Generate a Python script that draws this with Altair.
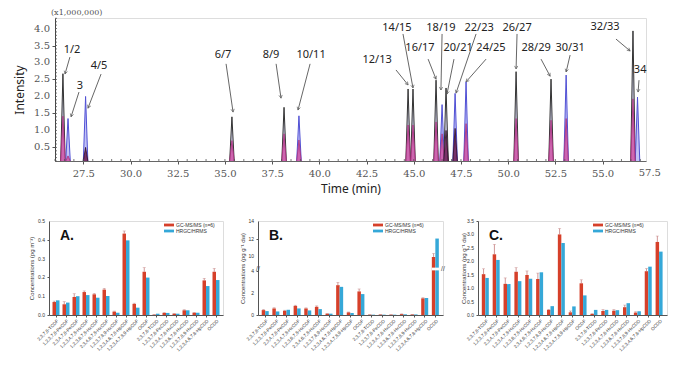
import math
import altair as alt
import pandas as pd

# ---------------- chromatogram data ----------------
peak_names = ["1/2", "3", "4/5", "6/7", "8/9", "10/11", "12/13", "14/15", "16/17",
              "18/19", "20/21", "22/23", "24/25", "26/27", "28/29", "30/31", "32/33", "34"]
peak_time = [26.42, 26.69, 27.62, 35.37, 38.13, 38.92, 44.70, 44.96, 46.18,
             46.50, 46.71, 47.19, 47.77, 50.42, 52.27, 53.07, 56.61, 56.85]
peak_main = [2.67, 1.35, 2.00, 1.40, 1.68, 1.43, 2.22, 2.22, 2.48,
             1.76, 2.25, 2.09, 2.43, 2.73, 2.51, 2.63, 3.93, 1.98]
peak_main_trace = ["gray", "blue", "blue", "gray", "gray", "blue", "gray", "gray", "gray",
                   "blue", "gray", "blue", "blue", "gray", "gray", "blue", "gray", "blue"]
peak_sub = [1.42, 0.25, 0.50, 0.70, 0.90, 0.72, 1.16, 1.16, 1.25,
            0.90, 1.00, 1.06, 1.20, 1.35, 1.30, 1.35, 1.93, 0.0]
peak_sub_trace = ["magenta", "magenta", "dark", "magenta", "magenta", "magenta", "magenta", "magenta", "magenta",
                  "magenta", "dark", "dark", "magenta", "magenta", "magenta", "magenta", "magenta", "magenta"]

ann_tx = [26.90, 27.32, 28.33, 34.90, 37.44, 39.56, 43.06, 44.11, 45.33,
          46.44, 47.35, 48.46, 49.09, 50.47, 51.48, 53.28, 55.13, 56.99]
ann_ty = [3.37, 2.31, 2.90, 3.22, 3.22, 3.22, 3.07, 4.02, 3.43,
          4.02, 3.43, 4.02, 3.43, 4.02, 3.43, 3.43, 4.04, 2.78]
arr_t1 = [26.79, 27.27, 28.44, 35.06, 37.71, 39.51, 44.06, 44.43, 45.76,
          46.50, 47.13, 48.30, 48.83, 50.47, 51.74, 53.28, 55.71, 56.93]
arr_v1 = [3.16, 2.13, 2.66, 2.96, 2.96, 2.96, 2.78, 3.84, 3.10,
          3.84, 3.10, 3.84, 3.10, 3.84, 3.10, 3.22, 3.69, 2.48]
arr_t2 = [26.53, 26.85, 27.75, 35.43, 37.97, 38.87, 44.70, 44.96, 46.18,
          46.44, 46.76, 47.24, 47.77, 50.42, 52.22, 53.07, 56.46, 56.88]
arr_v2 = [2.66, 1.40, 1.66, 1.54, 1.95, 1.60, 2.34, 2.25, 2.51,
          2.19, 2.07, 2.10, 2.43, 2.81, 2.60, 2.72, 3.34, 2.13]

x_major = [27.5, 30.0, 32.5, 35.0, 37.5, 40.0, 42.5, 45.0, 47.5, 50.0, 52.5, 55.0]
x_extra_label = [57.5]
y_major = [0.5, 1.0, 1.5, 2.0, 2.5, 3.0, 3.5, 4.0]

T_MIN, T_MAX = 26.0, 57.3
V_MIN, V_MAX = 0.1, 4.31
TOP_W, TOP_H = 591, 143
HW = 0.12  # half width of a peak (min)

rows = []
for i, t in enumerate(peak_time):
    for layer, tr, h in (("main", peak_main_trace[i], peak_main[i]),
                         ("sub", peak_sub_trace[i], peak_sub[i])):
        if h <= 0:
            continue
        for dt, v in ((-HW, V_MIN), (0.0, h), (HW, V_MIN)):
            rows.append({"pk": f"{peak_names[i]}-{layer}", "layer": layer,
                         "trace": tr, "t": t + dt, "v": v})
peaks_df = pd.DataFrame(rows)

pxm = TOP_W / (T_MAX - T_MIN)
pxv = TOP_H / (V_MAX - V_MIN)
ann_rows = []
for i, n in enumerate(peak_names):
    dx = (arr_t2[i] - arr_t1[i]) * pxm
    dy = -(arr_v2[i] - arr_v1[i]) * pxv
    ang = math.degrees(math.atan2(dx, -dy)) % 360
    ann_rows.append({"name": n, "tx": ann_tx[i], "ty": ann_ty[i],
                     "t1": arr_t1[i], "v1": arr_v1[i], "t2": arr_t2[i], "v2": arr_v2[i],
                     "ang": ang})
ann_df = pd.DataFrame(ann_rows)

trace_dom = ["gray", "blue", "magenta", "dark"]
fill_rng = ["#b9b9de", "#a8a8f2", "#cc52a4", "#6a1850"]
stroke_rng = ["#333333", "#5050d4", "#a82c7c", "#2e0a24"]

xs = alt.Scale(domain=[T_MIN, T_MAX], nice=False, zero=False)
ys = alt.Scale(domain=[V_MIN, V_MAX], nice=False, zero=False)

x_minor = pd.DataFrame({"t": [26.0 + 0.5 * k for k in range(63)]})
y_minor = pd.DataFrame({"v": [round(0.1 * k, 1) for k in range(1, 44)]})

xaxis_top = alt.Axis(values=x_major, format=".1f", title="Time (min)",
                     labelFont="DejaVu Serif", labelFontSize=10, labelColor="#555",
                     labelPadding=4, tickSize=3, tickColor="#555", domainColor="#666",
                     grid=False, titleFont="Noto Sans", titleFontSize=12,
                     titleFontWeight="normal", titleColor="#222", titlePadding=5,
                     labelOverlap=False)
yaxis_top = alt.Axis(values=y_major, labels=False, title="Intensity",
                     tickSize=3, tickColor="#555", domainColor="#444",
                     grid=False, titleFont="Noto Sans", titleFontSize=12,
                     titleFontWeight="normal", titleColor="#222", titlePadding=25)

pbase = alt.Chart(peaks_df)
fill_scale = alt.Scale(domain=trace_dom, range=fill_rng)
stroke_scale = alt.Scale(domain=trace_dom, range=stroke_rng)
area_main = pbase.transform_filter("datum.layer == 'main'").mark_area(opacity=0.7, clip=True).encode(
    x=alt.X("t:Q", scale=xs, axis=xaxis_top),
    y=alt.Y("v:Q", scale=ys, axis=yaxis_top),
    detail="pk:N",
    fill=alt.Fill("trace:N", scale=fill_scale, legend=None),
)
line_main = pbase.transform_filter("datum.layer == 'main'").mark_line(strokeWidth=1, clip=True).encode(
    x=alt.X("t:Q", scale=xs), y=alt.Y("v:Q", scale=ys), detail="pk:N",
    stroke=alt.Stroke("trace:N", scale=stroke_scale, legend=None),
)
area_sub = pbase.transform_filter("datum.layer == 'sub'").mark_area(opacity=0.85, clip=True).encode(
    x=alt.X("t:Q", scale=xs), y=alt.Y("v:Q", scale=ys), detail="pk:N",
    fill=alt.Fill("trace:N", scale=fill_scale, legend=None),
)
line_sub = pbase.transform_filter("datum.layer == 'sub'").mark_line(strokeWidth=0.8, clip=True).encode(
    x=alt.X("t:Q", scale=xs), y=alt.Y("v:Q", scale=ys), detail="pk:N",
    stroke=alt.Stroke("trace:N", scale=stroke_scale, legend=None),
)
xmin_rules = alt.Chart(x_minor).mark_rule(color="#555", strokeWidth=0.8).encode(
    x=alt.X("t:Q", scale=xs), y=alt.value(TOP_H), y2=alt.value(TOP_H - 2))
ymin_rules = alt.Chart(y_minor).mark_rule(color="#555", strokeWidth=0.8).encode(
    y=alt.Y("v:Q", scale=ys), x=alt.value(0), x2=alt.value(2))
extra_lab = alt.Chart(pd.DataFrame({"t": x_extra_label})).mark_text(
    font="DejaVu Serif", fontSize=10, color="#555", baseline="top").encode(
    x=alt.X("t:Q", scale=xs), y=alt.value(TOP_H + 7), text=alt.Text("t:Q", format=".1f"))
ylab = alt.Chart(pd.DataFrame({"v": y_major})).mark_text(
    font="DejaVu Serif", fontSize=10, color="#555", align="right", baseline="middle").encode(
    y=alt.Y("v:Q", scale=ys), x=alt.value(-5), text=alt.Text("v:Q", format=".1f"))

abase = alt.Chart(ann_df)
arrows = abase.mark_rule(color="#555", strokeWidth=0.9).encode(
    x=alt.X("t1:Q", scale=xs), y=alt.Y("v1:Q", scale=ys), x2="t2:Q", y2="v2:Q")
heads = abase.mark_point(shape="M-0.6,1.1L0,0L0.6,1.1", filled=False, size=30,
                         color="#555", strokeWidth=0.9).encode(
    x=alt.X("t2:Q", scale=xs), y=alt.Y("v2:Q", scale=ys), angle=alt.Angle("ang:Q", scale=None))
labels = abase.mark_text(font="Noto Sans", fontSize=11, color="#222").encode(
    x=alt.X("tx:Q", scale=xs), y=alt.Y("ty:Q", scale=ys), text="name:N")
mult = alt.Chart(pd.DataFrame({"s": ["(x1,000,000)"]})).mark_text(
    font="DejaVu Serif", fontSize=8, color="#555", align="left", baseline="middle").encode(
    x=alt.value(-4), y=alt.value(-5), text="s:N")

top = alt.layer(area_main, line_main, area_sub, line_sub, xmin_rules, ymin_rules, extra_lab, ylab,
                arrows, heads, labels, mult).properties(width=TOP_W, height=TOP_H)


def spacer(w, h):
    return alt.Chart(pd.DataFrame({"a": [0]})).mark_point(opacity=0).encode(
        x=alt.value(0), y=alt.value(0)).properties(width=w, height=h,
                                                   view=alt.ViewBackground(strokeOpacity=0))


# ---------------- bar chart data ----------------
cats = ["2,3,7,8-TCDF", "1,2,3,7,8-PeCDF", "2,3,4,7,8-PeCDF", "1,2,3,4,7,8-HxCDF",
        "1,2,3,6,7,8-HxCDF", "2,3,4,6,7,8-HxCDF", "1,2,3,7,8,9-HxCDF", "1,2,3,4,6,7,8-HpCDF",
        "1,2,3,4,7,8,9-HpCDF", "OCDF", "2,3,7,8-TCDD", "1,2,3,7,8-PeCDD", "1,2,3,4,7,8-HxCDD",
        "1,2,3,6,7,8-HxCDD", "1,2,3,7,8,9-HxCDD", "1,2,3,4,6,7,8-HpCDD", "OCDD"]
methods = ["GC-MS/MS (n=6)", "HRGC/HRMS"]
bar_colors = ["#d6402a", "#35a8d8"]

A_gc = [0.069, 0.057, 0.096, 0.122, 0.110, 0.135, 0.018, 0.433, 0.059, 0.230,
        0.002, 0.011, 0.007, 0.025, 0.012, 0.184, 0.230]
A_hr = [0.078, 0.066, 0.100, 0.106, 0.092, 0.101, 0.012, 0.397, 0.039, 0.199,
        0.007, 0.011, 0.007, 0.025, 0.012, 0.154, 0.186]
A_err = [0.005, 0.014, 0.017, 0.006, 0.005, 0.007, 0.003, 0.014, 0.004, 0.022,
         0.001, 0.002, 0.002, 0.003, 0.002, 0.011, 0.018]

B_gc = [0.44, 0.59, 0.38, 0.82, 0.59, 0.74, 0.12, 2.68, 0.24, 2.12,
        0.03, 0.04, 0.03, 0.08, 0.05, 1.50, 9.9]
B_hr = [0.35, 0.32, 0.47, 0.59, 0.41, 0.53, 0.12, 2.53, 0.18, 1.88,
        0.03, 0.03, 0.03, 0.06, 0.05, 1.53, 12.0]
B_err = [0.05, 0.06, 0.05, 0.06, 0.05, 0.08, 0.02, 0.25, 0.03, 0.22,
         0.01, 0.01, 0.01, 0.02, 0.01, 0.05, 0.4]

C_gc = [1.52, 2.26, 1.16, 1.61, 1.49, 1.34, 0.19, 3.00, 0.10, 1.18,
        0.04, 0.15, 0.16, 0.29, 0.09, 1.63, 2.72]
C_hr = [1.38, 2.05, 1.15, 1.26, 1.35, 1.59, 0.33, 2.68, 0.32, 0.73,
        0.19, 0.19, 0.18, 0.44, 0.14, 1.80, 2.36]
C_err = [0.20, 0.37, 0.22, 0.15, 0.15, 0.22, 0.02, 0.22, 0.05, 0.13,
         0.01, 0.05, 0.04, 0.08, 0.03, 0.10, 0.22]

FONT = "Liberation Sans"
PH = 94


def panel(gc, hr, err, letter, ytitle, yscale, yaxis_vals, yfmt, width, tpad, extra=None):
    recs = []
    for i, c in enumerate(cats):
        recs.append({"cat": c, "method": methods[0], "value": gc[i], "hi": gc[i] + err[i]})
        recs.append({"cat": c, "method": methods[1], "value": hr[i], "hi": hr[i]})
    df = pd.DataFrame(recs)
    xsc = alt.Scale(paddingInner=0.3, paddingOuter=0.35)
    x = alt.X("cat:N", sort=cats, scale=xsc, title=None,
              axis=alt.Axis(labelAngle=315, labelFontSize=4.6, labelFont=FONT, labelColor="#333",
                            tickSize=2, tickColor="#555", domainColor="#555", labelPadding=1,
                            labelLimit=200))
    xo = alt.XOffset("method:N", sort=methods, scale=alt.Scale(paddingInner=0, paddingOuter=0))
    yax = alt.Axis(values=yaxis_vals, labels=False, title=ytitle,
                   tickSize=2, tickColor="#555", domainColor="#555",
                   grid=False, titleFont=FONT, titleFontSize=6, titleFontWeight="normal",
                   titleColor="#333", titlePadding=tpad)
    base = alt.Chart(df)
    bars = base.mark_bar().encode(
        x=x, xOffset=xo,
        y=alt.Y("value:Q", scale=yscale, axis=yax),
        color=alt.Color("method:N", sort=methods,
                        scale=alt.Scale(domain=methods, range=bar_colors), legend=None))
    ebase = base.transform_filter(alt.datum.method == methods[0])
    erule = ebase.mark_rule(color="#b05050", strokeWidth=0.6).encode(
        x=x, xOffset=xo, y=alt.Y("value:Q", scale=yscale), y2="hi:Q")
    ecap = ebase.mark_tick(color="#c08080", thickness=0.6, size=3).encode(
        x=x, xOffset=xo, y=alt.Y("hi:Q", scale=yscale))
    ylabels = alt.Chart(pd.DataFrame({"value": yaxis_vals})).mark_text(
        font=FONT, fontSize=5, color="#333", align="right", baseline="middle").encode(
        y=alt.Y("value:Q", scale=yscale), x=alt.value(-4), text=alt.Text("value:Q", format=yfmt))
    one = pd.DataFrame({"a": [0]})
    lx = 115
    leg = []
    for k, (m, col) in enumerate(zip(methods, bar_colors)):
        yy = 4 + 6 * k
        leg.append(alt.Chart(one).mark_rect(color=col).encode(
            x=alt.value(lx), x2=alt.value(lx + 10), y=alt.value(yy - 1.4), y2=alt.value(yy + 1.4)))
        leg.append(alt.Chart(one).mark_text(font=FONT, fontSize=5, color="#333", align="left",
                                            baseline="middle", text=m).encode(
            x=alt.value(lx + 12), y=alt.value(yy)))
    let = alt.Chart(one).mark_text(font=FONT, fontSize=14, fontWeight="bold", color="#111",
                                   align="left", baseline="middle", text=letter).encode(
        x=alt.value(11), y=alt.value(15))
    layers = [bars, erule, ecap, ylabels] + leg + [let]
    if extra is not None:
        layers += extra(x)
    return alt.layer(*layers).properties(width=width, height=PH)


scaleA = alt.Scale(domain=[0, 0.5], nice=False)
chartA = panel(A_gc, A_hr, A_err, "A.", "Concentrations (pg m⁻³)", scaleA,
               [0, 0.1, 0.2, 0.3, 0.4, 0.5], ".1f", 174, 12)

scaleB = alt.Scale(domain=[0, 4, 8.7, 14], range=[PH, 49.5, 46.5, 0], nice=False)


def b_extra(x):
    brk = pd.DataFrame({"cat": ["OCDD"], "lo": [4.2], "hi": [8.5]})
    gap = alt.Chart(brk).mark_rect(color="white").encode(
        x=x, y=alt.Y("lo:Q", scale=scaleB), y2="hi:Q")
    one = pd.DataFrame({"a": [0]})
    s1 = alt.Chart(one).mark_text(text="//", fontSize=7, font=FONT, color="#444").encode(
        x=alt.value(0), y=alt.value(48))
    s2 = alt.Chart(one).mark_text(text="//", fontSize=7, font=FONT, color="#444").encode(
        x=alt.value(185), y=alt.value(48))
    return [gap, s1, s2]


chartB = panel(B_gc, B_hr, B_err, "B.", "Concentrations (pg g⁻¹ dw)", scaleB,
               [0, 2, 4, 10, 12, 14], "d", 185, 10, extra=b_extra)

scaleC = alt.Scale(domain=[0, 3.5], nice=False)
chartC = panel(C_gc, C_hr, C_err, "C.", "Concentrations (pg g⁻¹ dw)", scaleC,
               [0, 0.5, 1.0, 1.5, 2.0, 2.5, 3.0, 3.5], ".1f", 189, 9)

toprow = alt.hconcat(spacer(1, TOP_H), top, spacing=43, bounds="flush").resolve_scale(
    color="independent", fill="independent", stroke="independent")
botrow = alt.hconcat(spacer(3, PH), chartA, chartB, chartC, spacing=35, bounds="flush").resolve_scale(
    color="independent", fill="independent", stroke="independent")

chart = alt.vconcat(toprow, botrow, spacing=23).resolve_scale(
    color="independent", fill="independent", stroke="independent").properties(
    padding={"left": 0, "top": 0, "right": 0, "bottom": 0}
).configure_view(stroke="#666", strokeWidth=0.8).configure(background="white")

chart.save("out.html", embed_options={"renderer": "svg", "actions": False})
